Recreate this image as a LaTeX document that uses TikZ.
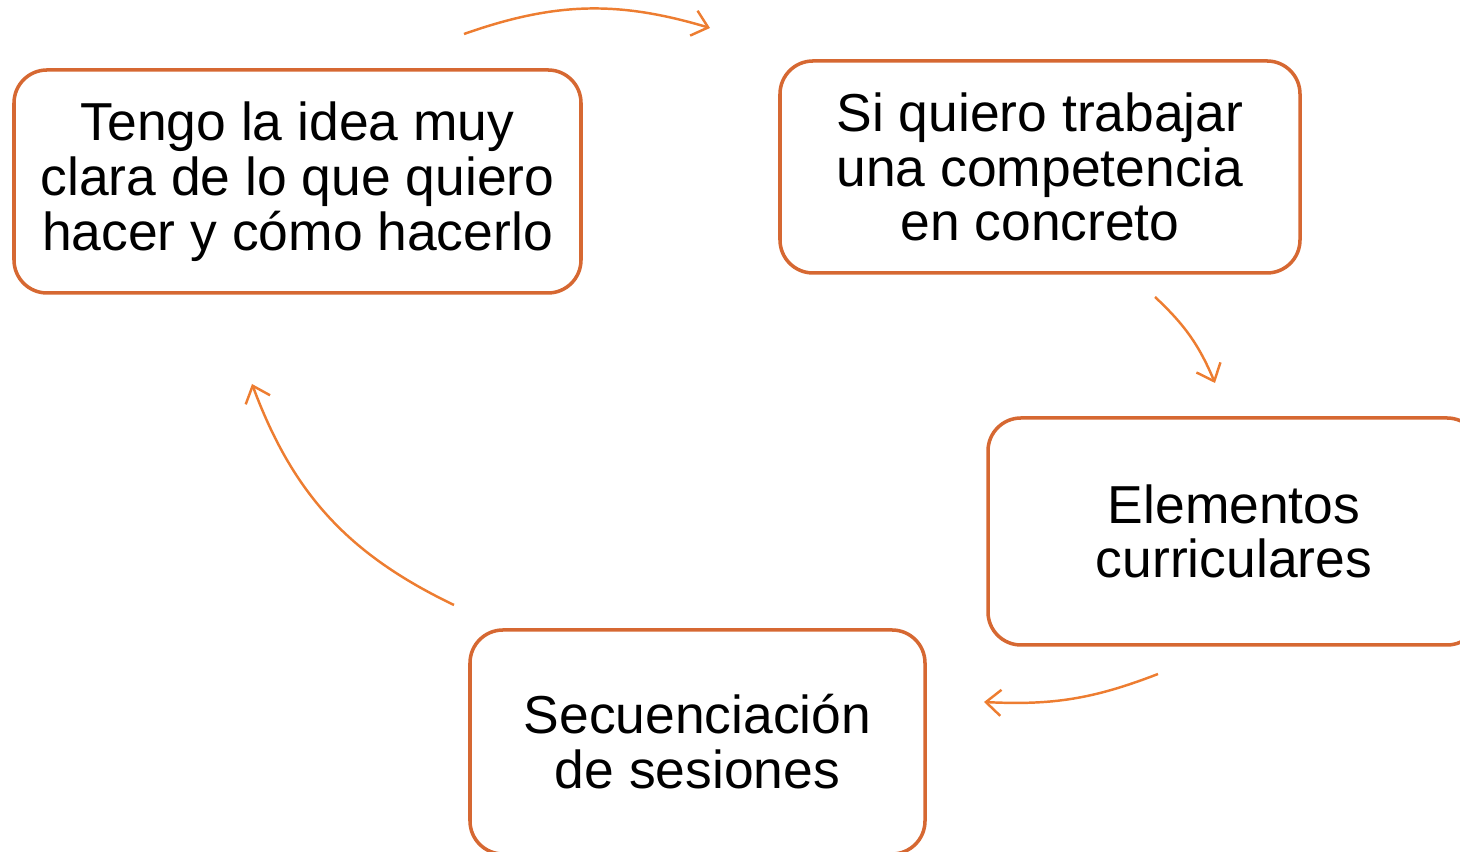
\documentclass[tikz,border=0pt]{standalone}
\usepackage{fontspec}
\setmainfont{Liberation Sans}
\usetikzlibrary{arrows.meta, positioning}

\definecolor{boxorange}{RGB}{214,104,50}
\definecolor{arroworange}{RGB}{237,125,49}

\begin{document}
\begin{tikzpicture}[
    stepbox/.style={draw=boxorange, line width=1pt, fill=white, rounded corners=0.33cm,
        align=center, inner sep=0pt, font=\fontsize{15.2}{15.6}\selectfont},
    cyclearrow/.style={arroworange, line width=0.7pt, -{Straight Barb[length=1.5mm,width=2.6mm]}}
]
    \useasboundingbox (0,0) rectangle (14.6,8.52);
    \clip (0,0) rectangle (14.6,8.52);

    % Boxes
    \node[stepbox, minimum width=5.67cm, minimum height=2.23cm] (idea) at (2.975,6.705)
        {Tengo la idea muy\\clara de lo que quiero\\hacer y cómo hacerlo};
    \node[stepbox, minimum width=5.20cm, minimum height=2.12cm] (competencia) at (10.40,6.85)
        {Si quiero trabajar\\una competencia\\en concreto};
    \node[stepbox, minimum width=4.92cm, minimum height=2.27cm] (elementos) at (12.34,3.205)
        {Elementos\\curriculares};
    \node[stepbox, minimum width=4.55cm, minimum height=2.24cm] (sesiones) at (6.975,1.10)
        {Secuenciación\\de sesiones};

    % Arrow ends
    \coordinate (a1) at (4.64,8.18);
    \coordinate (b1) at (7.10,8.24);
    \coordinate (a2) at (11.55,5.55);
    \coordinate (b2) at (12.15,4.69);
    \coordinate (a3) at (11.58,1.78);
    \coordinate (b3) at (9.84,1.50);
    \coordinate (a4) at (4.54,2.47);
    \coordinate (b4) at (2.52,4.68);

    % Cycle
    \draw[cyclearrow] (a1) to[bend left=18] (b1);
    \draw[cyclearrow] (a2) to[bend left=12] (b2);
    \draw[cyclearrow] (a3) to[bend left=12] (b3);
    \draw[cyclearrow] (a4) to[bend left=22] (b4);
\end{tikzpicture}
\end{document}
